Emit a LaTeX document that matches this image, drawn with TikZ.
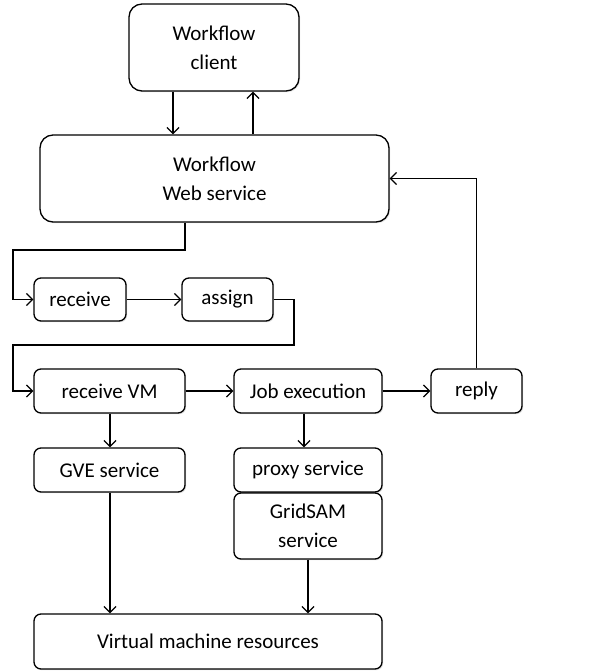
\documentclass[tikz,border=0pt]{standalone}
\usepackage{fontspec}
\setmainfont{Carlito}
\usetikzlibrary{arrows.meta,shadows}
\begin{document}
\begin{tikzpicture}[x=1pt,y=-1pt,
  box/.style={draw,line width=1.3pt,rounded corners=7pt,fill=white,
    drop shadow={opacity=0.25,shadow xshift=1.2pt,shadow yshift=-1.2pt},
    align=center,font=\fontsize{21}{29}\selectfont,inner sep=0pt},
  bigbox/.style={box,rounded corners=13pt},
  conn/.style={line width=1.3pt,-{Straight Barb[length=6pt,width=12pt,line width=1.3pt]}}]
\useasboundingbox (0,0) rectangle (605,672);
% boxes: centres and sizes in pixel coordinates
\node[bigbox,minimum width=170pt,minimum height=87pt] (client) at (214,47.5) {Workflow\\client};
\node[bigbox,minimum width=349pt,minimum height=87pt] (ws) at (214.5,178.5) {Workflow\\Web service};
\node[box,minimum width=92pt,minimum height=43pt] (recv) at (80,299.5) {receive};
\node[box,minimum width=91pt,minimum height=43pt] (assign) at (227.5,299.5) {assign};
\node[box,minimum width=151pt,minimum height=44pt] (rvm) at (109.5,391) {receive VM};
\node[box,minimum width=148pt,minimum height=44pt] (job) at (308,391) {Job execution};
\node[box,minimum width=91pt,minimum height=44pt] (reply) at (476.5,391) {reply};
\node[box,minimum width=151pt,minimum height=44pt] (gve) at (109.5,470) {GVE service};
\node[box,minimum width=148pt,minimum height=44pt] (proxy) at (308,470) {proxy service};
\node[box,minimum width=148pt,minimum height=66pt] (grid) at (308,526) {GridSAM\\service};
\node[box,minimum width=348pt,minimum height=55pt] (vmr) at (208,641.5) {Virtual machine resources};
% connectors
\draw[conn] (client.south -| 173,0) -- (ws.north -| 173,0);
\draw[conn] (ws.north -| 253,0) -- (client.south -| 253,0);
\coordinate (w1) at (185,250);
\coordinate (w2) at (13,250);
\draw[conn] (ws.south -| w1) -- (w1) -- (w2) |- (recv.west);
\draw[conn] (recv.east) -- (assign.west);
\coordinate (a1) at (294,345);
\coordinate (a2) at (13,345);
\draw[conn] (assign.east) -| (a1) -- (a2) |- (rvm.west);
\draw[conn] (rvm.east) -- (job.west);
\draw[conn] (job.east) -- (reply.west);
\draw[conn] (reply.north) |- (ws.east);
\draw[conn] (rvm.south -| 110,0) -- (gve.north -| 110,0);
\draw[conn] (job.south -| 304,0) -- (proxy.north -| 304,0);
\draw[conn] (gve.south -| 110,0) -- (vmr.north -| 110,0);
\draw[conn] (grid.south -| 308,0) -- (vmr.north -| 308,0);
\end{tikzpicture}
\end{document}
